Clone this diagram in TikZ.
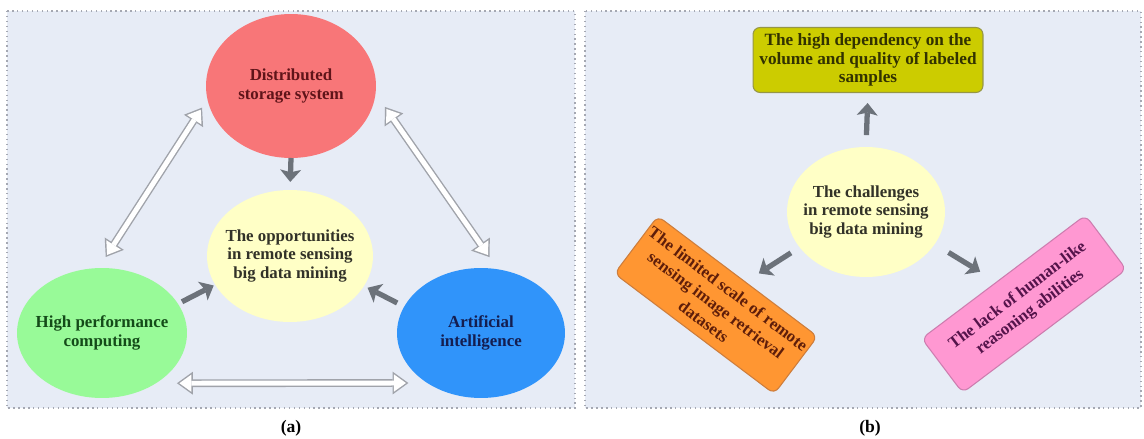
\documentclass[tikz,border=0pt]{standalone}
\usepackage{fontspec}
\setmainfont{Liberation Serif}
\usepackage{xcolor}
\usetikzlibrary{shapes.geometric,arrows.meta}

\definecolor{fondo}{RGB}{231,236,246}
\definecolor{marco}{RGB}{165,168,178}
\definecolor{gris}{RGB}{108,114,122}
\definecolor{grisclaro}{RGB}{160,163,170}
\definecolor{rojo}{RGB}{248,118,120}
\definecolor{rojotxt}{RGB}{95,20,25}
\definecolor{amarillo}{RGB}{255,255,198}
\definecolor{amarillotxt}{RGB}{50,50,40}
\definecolor{verde}{RGB}{152,250,152}
\definecolor{verdetxt}{RGB}{20,75,25}
\definecolor{azul}{RGB}{48,148,250}
\definecolor{azultxt}{RGB}{20,30,80}
\definecolor{oliva}{RGB}{204,204,0}
\definecolor{olivaborde}{RGB}{150,150,70}
\definecolor{olivatxt}{RGB}{50,50,0}
\definecolor{naranja}{RGB}{255,150,50}
\definecolor{naranjaborde}{RGB}{205,125,60}
\definecolor{naranjatxt}{RGB}{95,30,10}
\definecolor{rosa}{RGB}{255,152,210}
\definecolor{rosaborde}{RGB}{205,125,175}
\definecolor{rosatxt}{RGB}{85,20,75}

\tikzset{
  panel/.style={draw=marco,fill=fondo,dotted,line width=0.8pt},
  circulo/.style={ellipse,inner sep=0pt,outer sep=0pt},
  texto/.style={font=\fontsize{9.6}{10.4}\selectfont\bfseries,align=center},
  caja/.style={rectangle,rounded corners=4pt,draw,line width=0.6pt,inner sep=0pt,
    align=center,font=\fontsize{9.8}{10.6}\selectfont\bfseries},
  cajagirada/.style={caja,font=\fontsize{9.6}{11.6}\selectfont\bfseries},
  flecha/.style={draw=gris,line width=3pt,
    -{Stealth[length=7pt,width=12pt,inset=1.5pt,line width=0pt]}},
  huecaext/.style={draw=grisclaro,line width=4.4pt,
    {Triangle[length=9pt,width=13pt,line width=0pt]}-{Triangle[length=9pt,width=13pt,line width=0pt]}},
  huecaint/.style={draw=white,line width=2.8pt,
    {Triangle[length=6.8pt,width=9.8pt,line width=0pt]}-{Triangle[length=6.8pt,width=9.8pt,line width=0pt]}}
}

\newcommand{\FlechaDoble}[4]{%
  \draw[huecaext,shorten <=#3,shorten >=#4] (#1) -- (#2);
  \draw[huecaint,shorten <=#3+1.4pt,shorten >=#4+1.4pt] (#1) -- (#2);
}

\begin{document}
\begin{tikzpicture}[x=0.02cm,y=-0.02cm]
    \useasboundingbox (0,0) rectangle (1144,439);

    \begin{scope}
      \draw[panel] (7,11) rectangle (575,408);
      \node[circulo,fill=rojo,minimum width=3.4cm,minimum height=2.88cm,
        label={[texto,text=rojotxt]center:{Distributed\\storage system}}] (dss) at (291,86) {};
      \node[circulo,fill=amarillo,minimum width=3.32cm,minimum height=2.64cm,
        label={[texto,text=amarillotxt]center:{The opportunities\\in remote sensing\\big data mining}}] (opp) at (290,256) {};
      \node[circulo,fill=verde,minimum width=3.4cm,minimum height=2.6cm,
        label={[texto,text=verdetxt]center:{High performance\\computing}}] (hpc) at (102,333) {};
      \node[circulo,fill=azul,minimum width=3.36cm,minimum height=2.6cm,
        label={[texto,text=azultxt]center:{Artificial\\intelligence}}] (ai) at (481,333) {};

      \draw[flecha,shorten >=4.6pt] (dss.south) -- (opp.north);
      \draw[flecha,shorten <=2.6pt,shorten >=1pt] (hpc.21) -- (opp.201);
      \draw[flecha,shorten <=4.5pt,shorten >=2.3pt] (ai.161) -- (opp.338);

      \FlechaDoble{dss.189}{hpc.93}{5.7pt}{7.5pt}
      \FlechaDoble{dss.355}{ai.75}{9.4pt}{8.5pt}
      \FlechaDoble{hpc.317}{ai.223}{12pt}{10.8pt}

      \node[font=\fontsize{10}{12}\selectfont\bfseries] (capa) at (291,428) {(a)};
    \end{scope}

    \begin{scope}
      \draw[panel] (585,11) rectangle (1141,408);
      \node[circulo,fill=amarillo,minimum width=3.16cm,minimum height=2.6cm,
        label={[texto,text=amarillotxt]center:{The challenges\\in remote sensing\\big data mining}}] (chl) at (866,212) {};
      \node[caja,fill=oliva,draw=olivaborde,text=olivatxt,minimum width=4.6cm,minimum height=1.3cm]
        (dep) at (868,60) {The high dependency on the\\volume and quality of labeled\\samples};
      \node[cajagirada,fill=naranja,draw=naranjaborde,text=naranjatxt,minimum width=4cm,minimum height=1.44cm,rotate=-37]
        (lim) at (716,305) {The limited scale of remote\\sensing image retrieval\\datasets};
      \node[cajagirada,fill=rosa,draw=rosaborde,text=rosatxt,minimum width=4.1cm,minimum height=1.36cm,rotate=37]
        (lam) at (1024,304) {The lack of human-like\\reasoning abilities};

      \draw[flecha,shorten <=6.8pt,shorten >=5.7pt] (chl.north) -- (dep.south);
      \draw[flecha,shorten <=5.9pt,shorten >=8.8pt] (chl.208) -- (lim.75);
      \draw[flecha,shorten <=9.2pt,shorten >=10.8pt] (chl.335) -- (lam.104);

      \node[font=\fontsize{10}{12}\selectfont\bfseries] (capb) at (870,428) {(b)};
    \end{scope}
  \end{tikzpicture}
\end{document}
